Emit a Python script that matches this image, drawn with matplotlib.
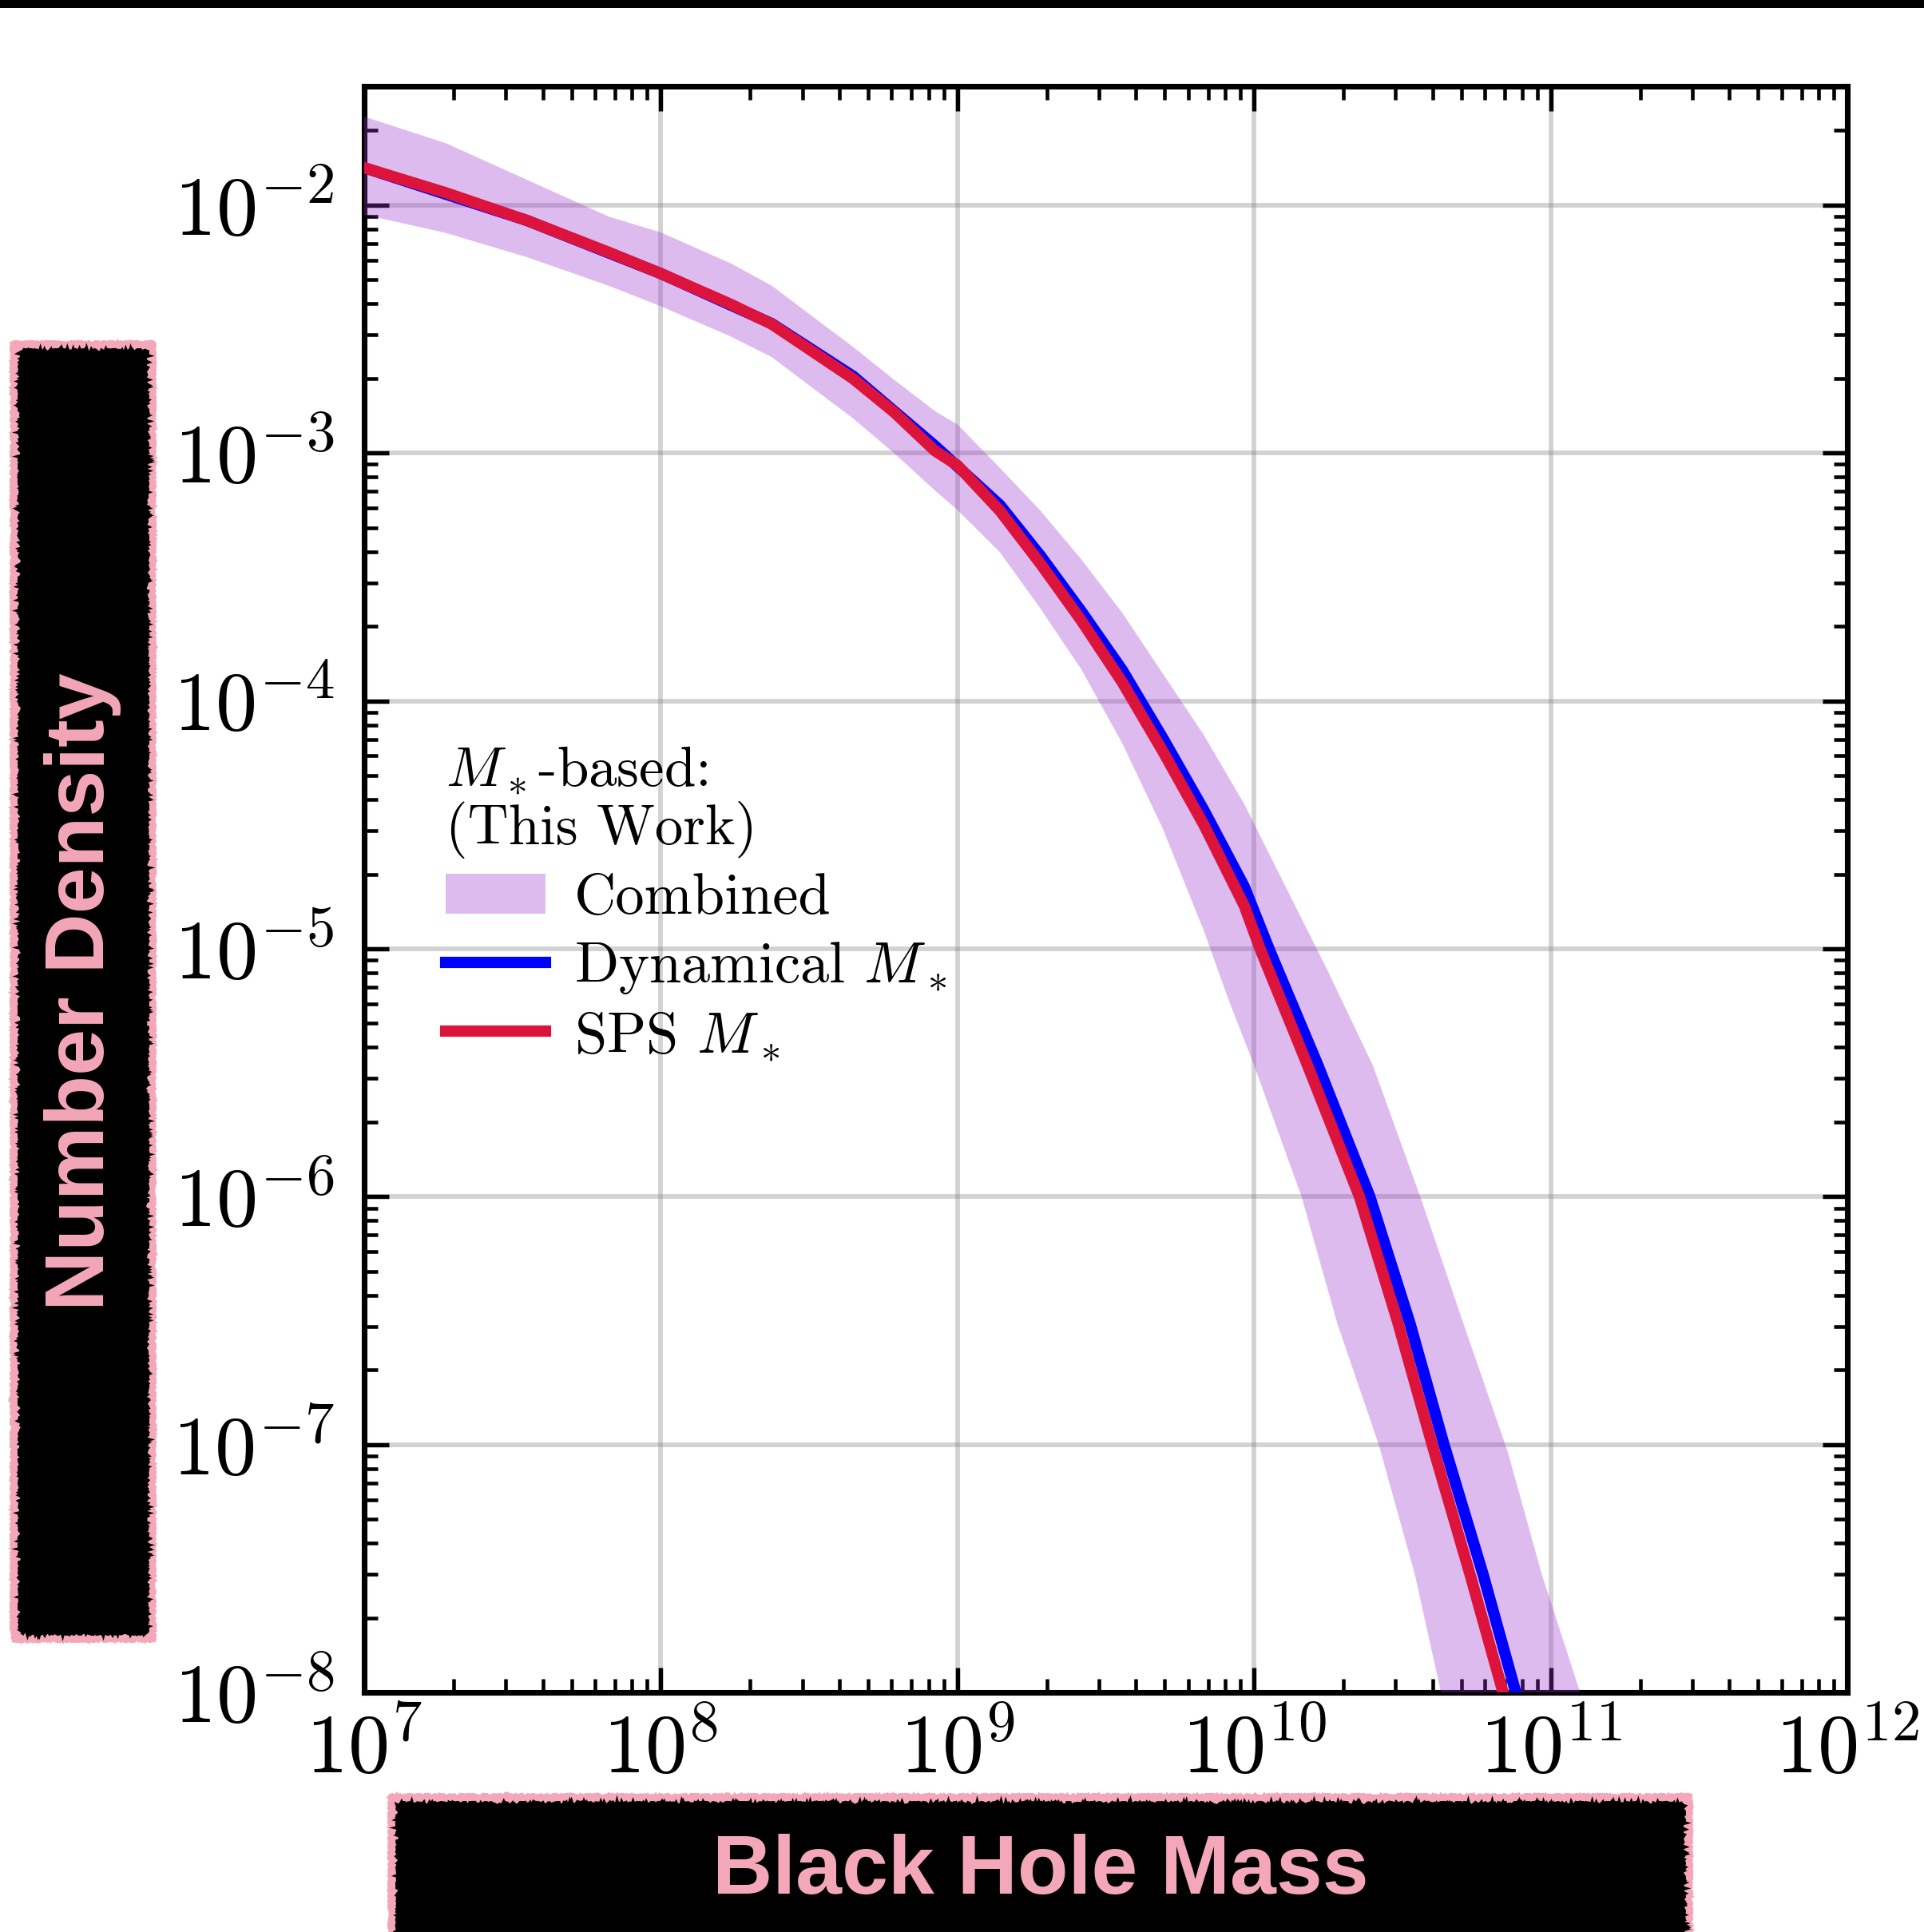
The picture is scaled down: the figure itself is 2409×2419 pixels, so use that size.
import numpy as np
import matplotlib
matplotlib.use("Agg")
import matplotlib.pyplot as plt
from matplotlib.patches import Rectangle

# black hole mass function (log10 values)
# SPS M* based
sps_logm = [7.0, 7.275, 7.549, 7.824, 8.0, 8.236, 8.374, 8.511, 8.648, 8.786, 8.923,
            9.0, 9.143, 9.28, 9.418, 9.555, 9.692, 9.83, 9.967, 10.02, 10.18, 10.355,
            10.485, 10.60, 10.728, 10.839, 10.88]
sps_logphi = [-1.849, -1.95, -2.062, -2.19, -2.276, -2.40, -2.48, -2.59, -2.70, -2.835,
              -2.99, -3.05, -3.233, -3.447, -3.677, -3.924, -4.203, -4.499, -4.827, -5.0,
              -5.47, -6.0, -6.51, -7.0, -7.525, -8.0, -8.17]

# dynamical M* based
dyn_logm = [7.0, 7.549, 8.0, 8.374, 8.648, 8.923, 9.143, 9.28, 9.418, 9.555, 9.692,
            9.83, 9.967, 10.05, 10.215, 10.39, 10.525, 10.64, 10.772, 10.882, 10.92]
dyn_logphi = [-1.849, -2.062, -2.276, -2.478, -2.69, -2.97, -3.21, -3.415, -3.64, -3.875,
              -4.15, -4.44, -4.75, -5.0, -5.47, -6.0, -6.51, -7.0, -7.525, -8.0, -8.17]

# combined band, upper and lower edges
up_logm = [7.0, 7.275, 7.549, 7.824, 8.0, 8.236, 8.374, 8.511, 8.648, 8.786, 8.923, 9.0,
           9.143, 9.28, 9.418, 9.555, 9.692, 9.83, 9.967, 10.104, 10.242, 10.40, 10.56,
           10.705, 10.855, 10.97, 11.099, 11.13]
up_logphi = [-1.643, -1.75, -1.898, -2.046, -2.11, -2.235, -2.325, -2.449, -2.572, -2.704,
             -2.83, -2.885, -3.06, -3.233, -3.43, -3.644, -3.89, -4.137, -4.417, -4.745,
             -5.074, -5.47, -6.0, -6.51, -7.03, -7.525, -8.0, -8.15]
low_logm = [7.0, 7.275, 7.549, 7.824, 8.0, 8.236, 8.374, 8.511, 8.648, 8.786, 8.923, 9.0,
            9.143, 9.28, 9.418, 9.555, 9.692, 9.83, 9.912, 10.0, 10.16, 10.28, 10.42,
            10.542, 10.63, 10.67]
low_logphi = [-2.038, -2.112, -2.21, -2.325, -2.408, -2.53, -2.613, -2.737, -2.86, -3.0,
              -3.15, -3.23, -3.40, -3.628, -3.874, -4.17, -4.515, -4.926, -5.2, -5.47,
              -6.0, -6.51, -7.0, -7.525, -8.0, -8.17]

pink = "#F4A7B9"

plt.rcParams["font.family"] = "serif"
plt.rcParams["font.serif"] = ["cmr10"]
plt.rcParams["mathtext.fontset"] = "cm"
plt.rcParams["axes.unicode_minus"] = False
plt.rcParams["axes.formatter.use_mathtext"] = True

fig = plt.figure(figsize=(2409 / 300, 2419 / 300), dpi=300)
ax = fig.add_axes([0.1893, 0.1240, 0.7709, 0.8314])

# band as a closed polygon
band_x = 10 ** np.concatenate([up_logm, low_logm[::-1]])
band_y = 10 ** np.concatenate([up_logphi, low_logphi[::-1]])
ax.fill(band_x, band_y, color="darkorchid", alpha=0.33, lw=0, zorder=3, label="Combined")

ax.plot(10 ** np.array(dyn_logm), 10 ** np.array(dyn_logphi), color="blue", lw=3.4,
        zorder=4, label=r"Dynamical $M_*$", solid_joinstyle="round")
ax.plot(10 ** np.array(sps_logm), 10 ** np.array(sps_logphi), color="crimson", lw=3.4,
        zorder=5, label=r"SPS $M_*$", solid_joinstyle="round")

ax.set_xscale("log")
ax.set_yscale("log")
ax.set_xlim(1e7, 1e12)
ax.set_ylim(1e-8, 10 ** -1.52)

ax.grid(True, which="major", color="gray", alpha=0.35, lw=1.4, zorder=1)
ax.set_axisbelow(True)
for s in ax.spines.values():
    s.set_linewidth(1.7)
ax.tick_params(which="both", direction="in", top=True, right=True)
ax.tick_params(which="major", length=7.5, width=1.3, labelsize=25)
ax.tick_params(which="minor", length=4, width=1.1)
ax.tick_params(axis="x", which="major", pad=6)
ax.tick_params(axis="y", which="major", pad=9)
ax.xaxis.set_minor_locator(matplotlib.ticker.LogLocator(base=10, subs=np.arange(2, 10), numticks=20))
ax.yaxis.set_minor_locator(matplotlib.ticker.LogLocator(base=10, subs=np.arange(2, 10), numticks=20))
ax.xaxis.set_minor_formatter(matplotlib.ticker.NullFormatter())
ax.yaxis.set_minor_formatter(matplotlib.ticker.NullFormatter())

leg = ax.legend(loc="upper left", bbox_to_anchor=(0.02, 0.622), frameon=False,
                fontsize=17.4, title="$M_*$-based:\n(This Work)", title_fontsize=17,
                handlelength=1.72, handletextpad=0.5, labelspacing=0.26)
leg._legend_box.align = "left"
leg.get_title().set_linespacing(1.1)

# top black bar
fig.add_artist(Rectangle((0, 1 - 10 / 2419), 1, 10 / 2419, transform=fig.transFigure,
                         color="black", lw=0))


def label_box(x0, y0, x1, y1):
    W, H = 2409, 2419
    outer = Rectangle((x0 / W, 1 - y1 / H), (x1 - x0) / W, (y1 - y0) / H,
                      transform=fig.transFigure, facecolor=pink, edgecolor=pink, lw=1)
    outer.set_sketch_params(scale=1.0, length=3, randomness=20)
    fig.add_artist(outer)
    b = 11
    inner = Rectangle(((x0 + b) / W, 1 - (y1 - b) / H), (x1 - x0 - 2 * b) / W,
                      (y1 - y0 - 2 * b) / H, transform=fig.transFigure,
                      facecolor="black", edgecolor="black", lw=1.2)
    inner.set_sketch_params(scale=2.0, length=2, randomness=20)
    fig.add_artist(inner)
    return (x0 + x1) / 2 / W, 1 - (y0 + y1) / 2 / H


cx, cy = label_box(15, 429, 193, 2054)
fig.text(cx, cy, "Number Density", rotation=90, ha="center", va="center",
         color=pink, fontsize=25, fontweight="bold", family="Liberation Sans")

cx, cy = label_box(488, 2248, 2117, 2440)
fig.text(cx, 1 - 2344 / 2419, "Black Hole Mass", ha="center", va="center",
         color=pink, fontsize=25, fontweight="bold", family="Liberation Sans")

fig.savefig("out.png", dpi=300)
